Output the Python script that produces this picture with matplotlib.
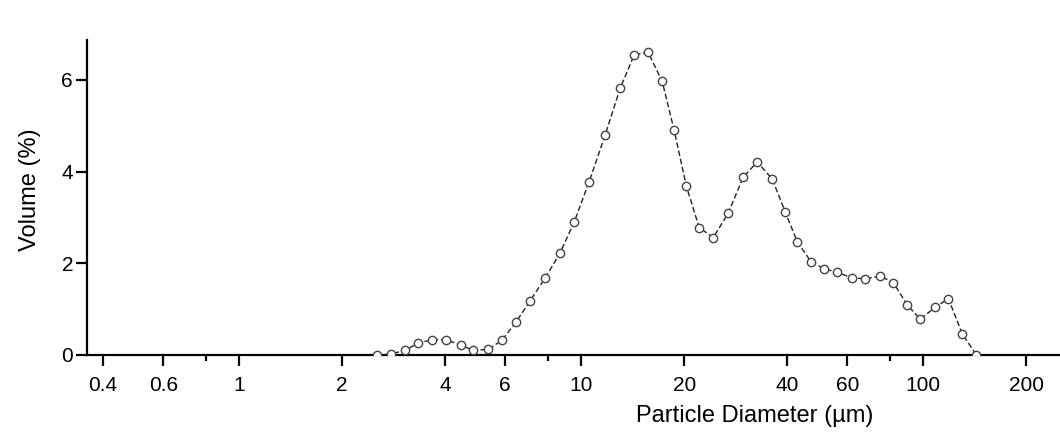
import numpy as np
import matplotlib
matplotlib.use("Agg")
import matplotlib.pyplot as plt
from matplotlib.ticker import FixedLocator, NullFormatter

# particle size bins (um) and volume fraction (%)
diametro = [2.53, 2.78, 3.06, 3.34, 3.67, 4.03, 4.46, 4.83, 5.35, 5.87,
            6.45, 7.09, 7.85, 8.68, 9.54, 10.55, 11.75, 13.0, 14.29, 15.7,
            17.25, 18.7, 20.28, 22.13, 24.32, 26.9, 29.76, 32.7, 36.18, 39.49,
            42.81, 47.03, 51.34, 56.04, 62.0, 67.7, 74.9, 81.7, 89.8, 98.0,
            108.4, 118.4, 130.0, 142.9]
volume = [0.0, 0.02, 0.10, 0.26, 0.33, 0.33, 0.21, 0.10, 0.12, 0.32,
          0.72, 1.18, 1.68, 2.23, 2.90, 3.78, 4.80, 5.82, 6.55, 6.60,
          5.97, 4.90, 3.69, 2.78, 2.56, 3.09, 3.88, 4.21, 3.84, 3.12,
          2.47, 2.03, 1.88, 1.80, 1.68, 1.66, 1.72, 1.58, 1.09, 0.78,
          1.04, 1.23, 0.46, 0.0]

xticks = [0.4, 0.6, 1, 2, 4, 6, 10, 20, 40, 60, 100, 200]
xtick_labels = ['0.4', '0.6', '1', '2', '4', '6', '10', '20', '40', '60', '100', '200']
xminor = [0.8, 8, 80]
yticks = [0, 2, 4, 6]

plt.rcParams['font.family'] = ['Liberation Sans', 'DejaVu Sans']

fig = plt.figure(figsize=(10.6, 4.36), dpi=100)
ax = fig.add_axes([0.082, 0.186, 0.918, 0.722])

ax.plot(diametro, volume, color='#222222', lw=1.0, dashes=(4, 2),
        marker='o', ms=6, mfc='white', mec='#444444', mew=1.0, zorder=3)

ax.set_xscale('log')
ax.set_xlim(0.359, 251)
ax.set_ylim(0, 6.87)

ax.xaxis.set_major_locator(FixedLocator(xticks))
ax.set_xticklabels(xtick_labels)
ax.xaxis.set_minor_locator(FixedLocator(xminor))
ax.xaxis.set_minor_formatter(NullFormatter())
ax.set_yticks(yticks)

for s in ['top', 'right']:
    ax.spines[s].set_visible(False)
for s in ['left', 'bottom']:
    ax.spines[s].set_linewidth(1.6)
    ax.spines[s].set_color('black')

ax.tick_params(axis='both', which='major', direction='out', length=8, width=1.6,
               labelsize=15, colors='black')
ax.tick_params(axis='x', which='major', pad=7)
ax.tick_params(axis='y', which='major', pad=2)
ax.tick_params(axis='x', which='minor', direction='out', length=4, width=1.6)

fig.text(0.712, 0.045, 'Particle Diameter (\u00b5m)', ha='center', va='center', fontsize=17)
fig.text(0.028, 0.566, 'Volume (%)', ha='center', va='center', rotation=90, fontsize=17)

fig.savefig('out.png', dpi=100)
